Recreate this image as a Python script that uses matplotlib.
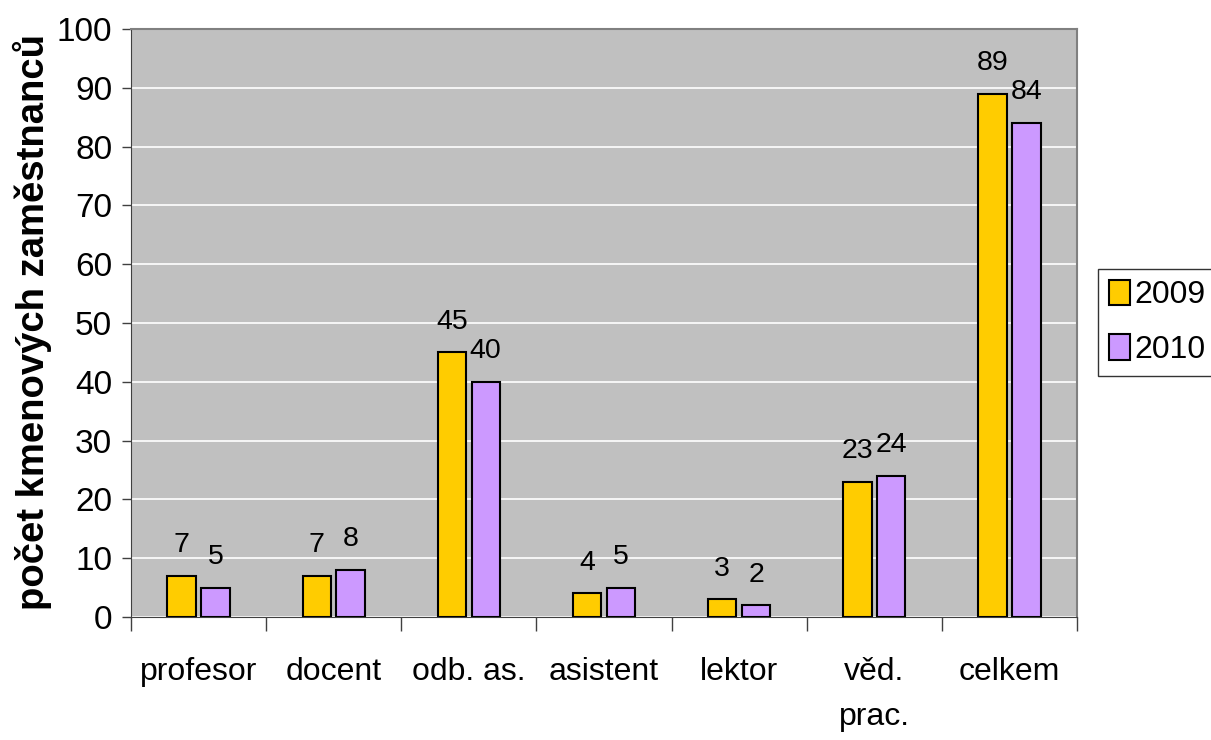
import matplotlib
matplotlib.use("Agg")
import matplotlib.pyplot as plt
import numpy as np

categories = ["profesor", "docent", "odb. as.", "asistent", "lektor", "věd.\nprac.", "celkem"]
series_names = ["2009", "2010"]
values_2009 = [7, 7, 45, 4, 3, 23, 89]
values_2010 = [5, 8, 40, 5, 2, 24, 84]
y_ticks = [0, 10, 20, 30, 40, 50, 60, 70, 80, 90, 100]
ylabel = "počet kmenových zaměstnanců"

plt.rcParams['font.family'] = ['Liberation Sans', 'DejaVu Sans']

fig = plt.figure(figsize=(12.11, 7.40), dpi=100)
ax = fig.add_axes([131/1211, 1-617/740, 946/1211, 588/740])
ax.set_facecolor("#C0C0C0")

x = np.arange(len(categories))
w = 0.21
off = 0.125
b1 = ax.bar(x - off, values_2009, w, color="#FFCC00", edgecolor="black", linewidth=1.5, label=series_names[0], zorder=3)
b2 = ax.bar(x + off, values_2010, w, color="#CC99FF", edgecolor="black", linewidth=1.5, label=series_names[1], zorder=3)

for bars, vals in ((b1, values_2009), (b2, values_2010)):
    for r, v in zip(bars, vals):
        ax.annotate(str(v), (r.get_x() + r.get_width()/2, r.get_height()),
                    xytext=(0, 17), textcoords="offset points",
                    ha="center", va="baseline", fontsize=20.5)

ax.set_xlim(-0.5, len(categories) - 0.5)
ax.set_ylim(0, 100)
ax.set_yticks(y_ticks)
ax.set_yticklabels([str(t) for t in y_ticks], fontsize=24)
ax.yaxis.grid(True, color="white", linewidth=1.2, zorder=0)
ax.set_axisbelow(True)

ax.set_xticks(x)
ax.set_xticklabels(categories, fontsize=23, linespacing=1.62, va="top")
ax.tick_params(axis="x", which="major", length=0, pad=29)
ax.set_xticks(np.arange(len(categories) + 1) - 0.5, minor=True)
ax.tick_params(axis="x", which="minor", length=10, width=1, color="#404040", direction="out")
ax.tick_params(axis="y", length=6.5, width=1, color="#404040", pad=7, direction="out")

for s in ["top", "right"]:
    ax.spines[s].set_color("#808080")
    ax.spines[s].set_linewidth(1.5)
ax.spines["left"].set_color("#404040")
ax.spines["bottom"].set_color("#404040")

fig.text(32/1211, 1-322/740, ylabel, rotation=90, ha="center", va="center",
         fontsize=27.5, fontweight="bold")

leg = fig.legend(handles=[b1, b2], labels=series_names, loc="upper left",
                 bbox_to_anchor=(1098/1211, 1-269/740), bbox_transform=fig.transFigure,
                 fontsize=23, frameon=True, fancybox=False,
                 borderaxespad=0, handlelength=0.68, handleheight=0.85, handletextpad=0.14,
                 labelspacing=0.75, borderpad=0.33)
leg.get_frame().set_edgecolor("black")
leg.get_frame().set_linewidth(1)

fig.savefig("out.png", dpi=100)
